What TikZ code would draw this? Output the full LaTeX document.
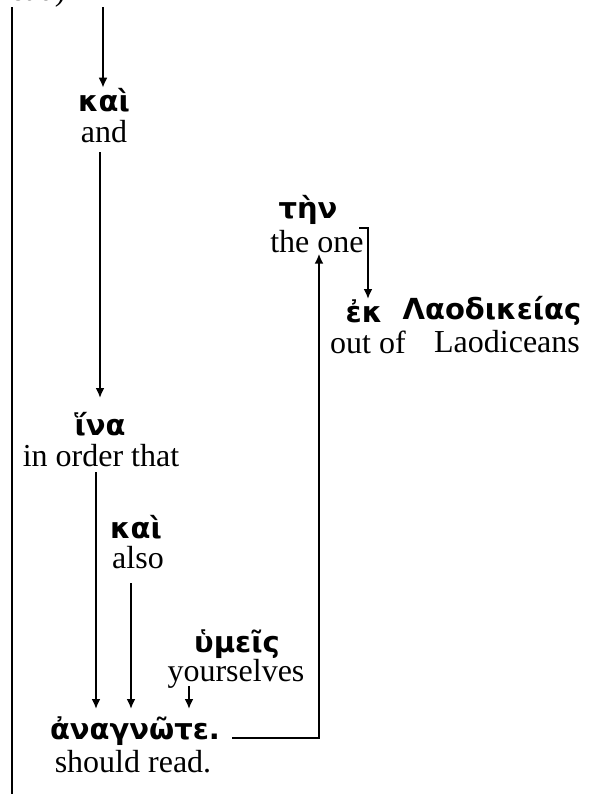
\documentclass[tikz,border=0pt]{standalone}
\usepackage{fontspec}
\setmainfont{Liberation Serif}
\newfontfamily\gk{DejaVu Sans}
\usetikzlibrary{arrows.meta,calc}
\begin{document}
\begin{tikzpicture}[x=0.5pt,y=-0.5pt,
  en/.style={inner sep=0pt,font=\fontsize{16}{18}\selectfont},
  gr/.style={inner sep=0pt,font=\gk\bfseries\fontsize{14.5}{16}\selectfont},
  conn/.style={line width=1pt},
  arr/.style={conn,-{Latex[length=5pt,width=4.5pt]}}]
\useasboundingbox (0,0) rectangle (593,794);
% cut-off text at top
\node[en,anchor=base west] (topt) at (10,0.5) {ead)};
% nodes
\node[gr] (kai1) at (104,100) {καὶ};
\node[en] (and) at (104,132) {and};
\node[gr] (hina) at (100,424) {ἵνα};
\node[en] (iot) at (101,456) {in order that};
\node[gr] (kai2) at (136,527) {καὶ};
\node[en] (also) at (138,558) {also};
\node[gr] (hymeis) at (237,644) {ὑμεῖς};
\node[en] (yours) at (236,674) {yourselves};
\node[gr] (anag) at (135,731) {ἀναγνῶτε.};
\node[en] (shr) at (133,762) {should read.};
\node[gr] (ten) at (308,210) {τὴν};
\node[en] (one) at (317,242) {the one};
\node[gr] (ek) at (364,311) {ἐκ};
\node[gr] (laod) at (492,311) {Λαοδικείας};
\node[en] (outof) at (368,342) {out of};
\node[en] (laodE) at (507,342) {Laodiceans};
% free ends
\coordinate (ltop) at (12,7);
\coordinate (lbot) at (12,794);
\coordinate (atop) at (103,7);
\coordinate (bend1) at (319,738);
\coordinate (bend2) at (368,228);
% connectors
\draw[conn] (ltop) -- (lbot);
\draw[arr] (atop) -- (atop |- kai1.north);
\draw[arr] (100,152) -- (100,398);
\draw[arr] (96,472) -- (96,709);
\draw[arr] (131,583) -- (131,709);
\draw[arr] (189,686) -- (189,709);
\draw[arr] ($(anag.east |- bend1)+(12,0)$) -- (bend1) -- (bend1 |- one.south);
\draw[arr] (359,228) -- (bend2) -- (bend2 |- ek.north);
\end{tikzpicture}
\end{document}
